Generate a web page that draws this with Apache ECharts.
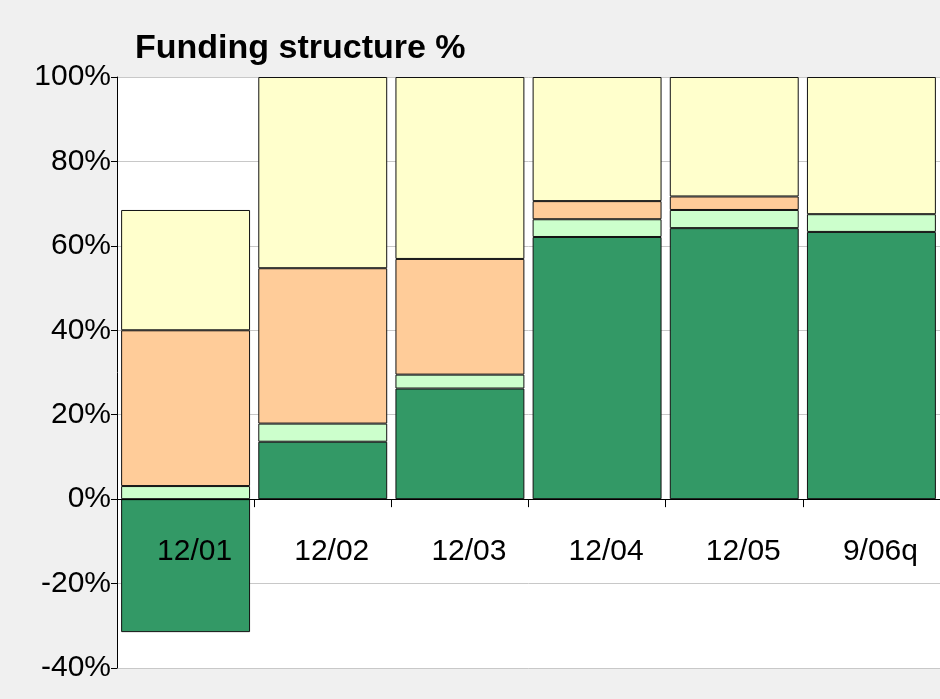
<!DOCTYPE html>
<html>
<head>
<meta charset="utf-8">
<script src="https://cdn.jsdelivr.net/npm/echarts@6/dist/echarts.min.js"></script>
<style>
  html, body { margin: 0; padding: 0; background: #f0f0f0; }
  #chart { width: 940px; height: 699px; }
</style>
</head>
<body>
<div id="chart"></div>
<script>
// Funding structure, share of total (%)
const categories = ['12/01', '12/02', '12/03', '12/04', '12/05', '9/06q'];
const seriesDarkGreen  = [-31.5, 13.6, 26.2, 62.1, 64.2, 63.3];
const seriesLightGreen = [3.1, 4.3, 3.3, 4.2, 4.3, 4.2];
const seriesPeach      = [36.9, 36.8, 27.4, 4.3, 3.2, null];
const seriesYellow     = [28.5, 45.3, 43.1, 29.4, 28.3, 32.5];
const yTicks = { min: -40, max: 100, interval: 20 };

const FONT = '"Liberation Sans", Arial, sans-serif';

function barSeries(name, data, color) {
  return {
    name: name,
    type: 'bar',
    stack: 'total',
    data: data,
    barCategoryGap: '6%',
    itemStyle: { color: color, borderColor: '#111', borderWidth: 1 }
  };
}

const chart = echarts.init(document.getElementById('chart'), null, { renderer: 'canvas' });
chart.setOption({
  backgroundColor: '#f0f0f0',
  animation: false,
  title: {
    text: 'Funding structure %',
    left: 130,
    top: 27,
    textStyle: { fontFamily: FONT, fontSize: 34, fontWeight: 'bold', color: '#000' }
  },
  grid: {
    left: 117, right: 0, top: 77, bottom: 31,
    outerBoundsMode: 'none',
    containLabel: false,
    show: true, backgroundColor: '#ffffff', borderWidth: 0
  },
  xAxis: {
    type: 'category',
    data: categories,
    z: 10,
    axisLine: { onZero: true, lineStyle: { color: '#000', width: 1 } },
    axisTick: { show: true, length: 8, lineStyle: { color: '#000' } },
    // category names sit just under the zero line, inside the plot
    axisLabel: {
      margin: -131,
      verticalAlign: 'top',
      fontFamily: FONT, fontSize: 30, color: '#000',
      padding: [0, 0, 0, 18]
    },
    splitLine: { show: false }
  },
  yAxis: {
    type: 'value',
    min: yTicks.min, max: yTicks.max, interval: yTicks.interval,
    axisLine: { show: true, lineStyle: { color: '#000', width: 1 } },
    axisTick: { show: true, length: 6, lineStyle: { color: '#000' } },
    axisLabel: {
      formatter: '{value}%', margin: 6,
      fontFamily: FONT, fontSize: 30, color: '#000'
    },
    splitLine: { show: true, lineStyle: { color: '#c8c8c8', width: 1 } }
  },
  series: [
    barSeries('dark', seriesDarkGreen, '#339966'),
    barSeries('light', seriesLightGreen, '#ccffcc'),
    barSeries('peach', seriesPeach, '#ffcc99'),
    barSeries('yellow', seriesYellow, '#ffffcc')
  ]
});
</script>
</body>
</html>
